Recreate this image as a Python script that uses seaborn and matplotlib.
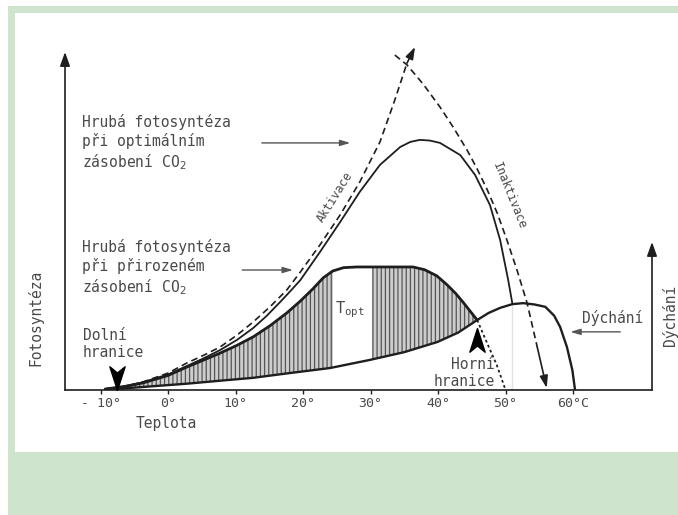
import matplotlib
matplotlib.use("Agg")
import matplotlib.pyplot as plt
import seaborn as sns
from matplotlib.patches import Rectangle, Polygon
from matplotlib.path import Path

# ---- curve data: temperature (°C) vs relative rate ----
optimal_t = [-9.3, -6.5, -3.7, 0.0, 2.8, 5.2, 7.7, 10.2, 12.6, 14.6, 16.6, 18.1, 19.6,
             22.5, 25.5, 28.4, 31.4, 34.4, 35.9, 37.3, 38.8, 40.3, 43.3, 45.5, 47.7,
             49.2, 50.4, 51.0]
optimal_y = [0.3, 1.1, 2.3, 4.6, 7.1, 9.3, 11.8, 14.8, 18.3, 21.9, 26.0, 29.2, 32.5,
             40.8, 49.7, 58.6, 66.6, 71.9, 73.4, 74.0, 73.8, 73.1, 69.5, 63.6, 54.7,
             44.4, 32.5, 25.7]

natural_t = [-9.3, -6.5, -3.7, 0.0, 2.8, 5.2, 7.7, 10.2, 12.6, 15.1, 17.6, 19.6, 21.5,
             23.0, 24.4, 26.0, 28.0, 32.0, 36.3, 38.0, 39.8, 41.3, 42.6, 43.7, 45.8]
natural_y = [0.3, 1.0, 2.1, 4.3, 6.8, 8.8, 10.9, 13.2, 15.7, 19.0, 22.8, 26.3, 30.0,
             33.2, 35.2, 36.2, 36.4, 36.4, 36.4, 35.6, 33.8, 31.2, 28.6, 26.0, 20.7]

# natural curve continuing below respiration
natural_tail_t = [45.8, 47.4, 48.7, 49.9]
natural_tail_y = [20.7, 13.3, 7.4, 0.6]

respiration_t = [-9.3, -5.0, -1.0, 3.0, 8.0, 12.6, 18.0, 24.0, 29.9, 35.0, 39.9, 43.0,
                 45.8, 47.5, 49.2, 51.0, 52.6, 54.3, 55.9, 57.2, 58.1, 59.1, 59.9, 60.3]
respiration_y = [0.0, 0.7, 1.3, 1.9, 2.8, 3.6, 5.0, 6.5, 8.9, 11.2, 14.2, 17.0,
                 20.7, 22.8, 24.3, 25.4, 25.7, 25.3, 24.6, 22.0, 18.6, 12.7, 5.9, 0.0]

activation_t = [-8.6, -6.0, -3.7, 0.0, 2.8, 5.2, 7.7, 10.2, 12.6, 15.1, 17.6, 19.6,
                22.5, 25.5, 28.4, 31.4, 33.6, 35.4, 36.6]
activation_y = [0.3, 1.2, 2.4, 5.0, 8.0, 10.2, 12.7, 16.2, 20.1, 24.6, 29.6, 34.9,
                42.9, 51.8, 61.5, 73.4, 85.8, 96.7, 101.5]

inactivation_t = [33.6, 35.4, 37.8, 40.3, 42.3, 44.3, 45.8, 47.3, 48.8, 50.2, 51.7,
                  53.2, 54.7, 56.1]
inactivation_y = [99.1, 96.2, 90.5, 83.7, 77.6, 71.0, 65.4, 59.2, 52.2, 44.4, 35.5,
                  25.7, 12.7, 0.6]

# hatched bands (net photosynthesis) and the blank band around T_opt
hatch_bands = [(-9.3, 24.4), (30.2, 45.8)]

tick_values = [-10, 0, 10, 20, 30, 40, 50, 60]
tick_labels = ["- 10°", "0°", "10°", "20°", "30°", "40°", "50°", "60°C"]

INK = "#1e1e1e"
TEXT = "#4a4a4a"
GREEN = "#cee4cd"

sns.set_theme(style="white")
plt.rcParams["font.family"] = ["DejaVu Sans Mono", "DejaVu Sans"]
plt.rcParams["hatch.linewidth"] = 0.9

W, H = 678, 515
fig = plt.figure(figsize=(W / 100, H / 100), dpi=100)
fig.patch.set_facecolor("white")

# page frame drawn in a background axes
bg = fig.add_axes([0, 0, 1, 1], zorder=-5)
bg.set_xlim(0, W)
bg.set_ylim(H, 0)
bg.axis("off")
bg.add_patch(Rectangle((8, 6), W, H, facecolor=GREEN, edgecolor="none"))
bg.add_patch(Rectangle((15, 13), W, 439, facecolor="white", edgecolor="none"))

ax = fig.add_axes([65 / W, 125 / H, 587 / W, 338 / H], zorder=1)
ax.set_facecolor("none")
x0, x1 = -15.26, 71.70
ax.set_xlim(x0, x1)
ax.set_ylim(0, 100)
for name, sp in ax.spines.items():
    sp.set_visible(name == "bottom")
ax.spines["bottom"].set_color(INK)
ax.spines["bottom"].set_linewidth(1.2)
ax.set_yticks([])
ax.set_xticks(tick_values)
ax.set_xticklabels(tick_labels)
ax.tick_params(axis="x", bottom=True, direction="out", length=3, width=1,
               color=INK, pad=2, labelsize=9.5, labelcolor=TEXT)

# axes arrows
arrow_kw = dict(arrowstyle="-|>,head_length=0.7,head_width=0.25", color=INK, lw=1.2,
                shrinkA=0, shrinkB=0)
ax.annotate("", xy=(x0, 100), xytext=(x0, 0), arrowprops=arrow_kw, annotation_clip=False)
ax.annotate("", xy=(x1, 43.8), xytext=(x1, 0), arrowprops=arrow_kw, annotation_clip=False)

# hatched net-photosynthesis area between natural curve and respiration
band_top = list(zip(natural_t, natural_y))
band_bottom = [(t, y) for t, y in zip(respiration_t, respiration_y) if t <= 45.8][::-1]
for a, b in hatch_bands:
    poly = Polygon(band_top + band_bottom, closed=True, facecolor="#cdcdcd",
                   edgecolor="#555555", hatch="||||", lw=0, zorder=1)
    ax.add_patch(poly)
    poly.set_clip_path(Rectangle((a, -1), b - a, 120, transform=ax.transData))

# curves
sns.lineplot(x=optimal_t, y=optimal_y, sort=False, estimator=None, color=INK, lw=1.3, ax=ax, zorder=3)
sns.lineplot(x=natural_t, y=natural_y, sort=False, estimator=None, color=INK, lw=2.0, ax=ax, zorder=3)
sns.lineplot(x=natural_tail_t, y=natural_tail_y, sort=False, estimator=None, color=INK, lw=1.3,
             linestyle=(0, (1.5, 1.5)), ax=ax, zorder=3)
sns.lineplot(x=respiration_t, y=respiration_y, sort=False, estimator=None, color=INK, lw=1.7, ax=ax, zorder=3)
sns.lineplot(x=activation_t[:-1], y=activation_y[:-1], sort=False, estimator=None, color=INK, lw=1.2,
             linestyle=(0, (4, 2.5)), ax=ax, zorder=3)
sns.lineplot(x=inactivation_t[:-1], y=inactivation_y[:-1], sort=False, estimator=None, color=INK, lw=1.2,
             linestyle=(0, (4, 2.5)), ax=ax, zorder=3)
ax.lines[-1].set_clip_on(False)
ax.lines[-2].set_clip_on(False)
small_head = dict(arrowstyle="-|>,head_length=0.6,head_width=0.2", color=INK, lw=1.2,
                  shrinkA=0, shrinkB=0)
ax.annotate("", xy=(activation_t[-1], activation_y[-1]), xytext=(activation_t[-2], activation_y[-2]),
            arrowprops=small_head, annotation_clip=False)
ax.annotate("", xy=(inactivation_t[-1], inactivation_y[-1]), xytext=(inactivation_t[-2], inactivation_y[-2]),
            arrowprops=small_head, annotation_clip=False)
# dotted drop of the optimal curve to the axis
sns.lineplot(x=[optimal_t[-1], optimal_t[-1]], y=[optimal_y[-1], 0], color="#777777", lw=0.9,
             linestyle=(0, (1, 1.5)), ax=ax, zorder=2)

# text labels
lab_kw = dict(color=TEXT, fontsize=10.5, linespacing=1.2)
ax.text(-12.74, 73.1, "Hrubá fotosyntéza\npři optimálním\nzásobení CO$_2$",
        ha="left", va="center", **lab_kw)
ax.text(-12.74, 36.1, "Hrubá fotosyntéza\npři přirozeném\nzásobení CO$_2$",
        ha="left", va="center", **lab_kw)
ptr = dict(arrowstyle="-|>,head_length=0.5,head_width=0.15", color="#555555", lw=1.0,
           shrinkA=0, shrinkB=0)
ax.annotate("", xy=(27.0, 73.1), xytext=(13.9, 73.1), arrowprops=ptr)
ax.annotate("", xy=(18.5, 35.5), xytext=(11.0, 35.5), arrowprops=ptr)
ax.annotate("", xy=(59.6, 17.2), xytext=(67.0, 17.2), arrowprops=ptr, annotation_clip=False)

ax.text(24.8, 57.0, "Aktivace", rotation=58, ha="center", va="center", color=TEXT, fontsize=8.5)
ax.text(50.6, 57.4, "Inaktivace", rotation=-68, ha="center", va="center", color=TEXT, fontsize=8.5)
ax.text(27.0, 23.7, r"$\mathregular{T_{opt}}$", ha="center", va="center", color=TEXT, fontsize=11)
ax.text(-12.6, 13.6, "Dolní\nhranice", ha="left", va="center", **lab_kw)
ax.text(48.4, 5.0, "Horní\nhranice", ha="right", va="center", multialignment="right", **lab_kw)
ax.text(65.8, 21.3, "Dýchání", ha="center", va="center", **lab_kw)
ax.text(-0.3, -9.9, "Teplota", ha="center", va="center", clip_on=False, **lab_kw)
ax.text(-19.7, 21.3, "Fotosyntéza", rotation=90, ha="center", va="center", clip_on=False, **lab_kw)
ax.text(74.4, 22.2, "Dýchání", rotation=90, ha="center", va="center", clip_on=False, **lab_kw)

# boundary arrowheads
head_down = Path([(0, -1), (-0.55, 0.7), (0, 0.25), (0.55, 0.7), (0, -1)],
                 [Path.MOVETO, Path.LINETO, Path.LINETO, Path.LINETO, Path.CLOSEPOLY])
head_up = Path([(0, 1), (-0.55, -0.7), (0, -0.25), (0.55, -0.7), (0, 1)],
               [Path.MOVETO, Path.LINETO, Path.LINETO, Path.LINETO, Path.CLOSEPOLY])
ax.plot([-7.6], [4.2], marker=head_down, markersize=20, color="black", clip_on=False, zorder=4)
ax.plot([45.8], [14.3], marker=head_up, markersize=20, color="black", clip_on=False, zorder=4)

fig.savefig("out.png", dpi=100)
